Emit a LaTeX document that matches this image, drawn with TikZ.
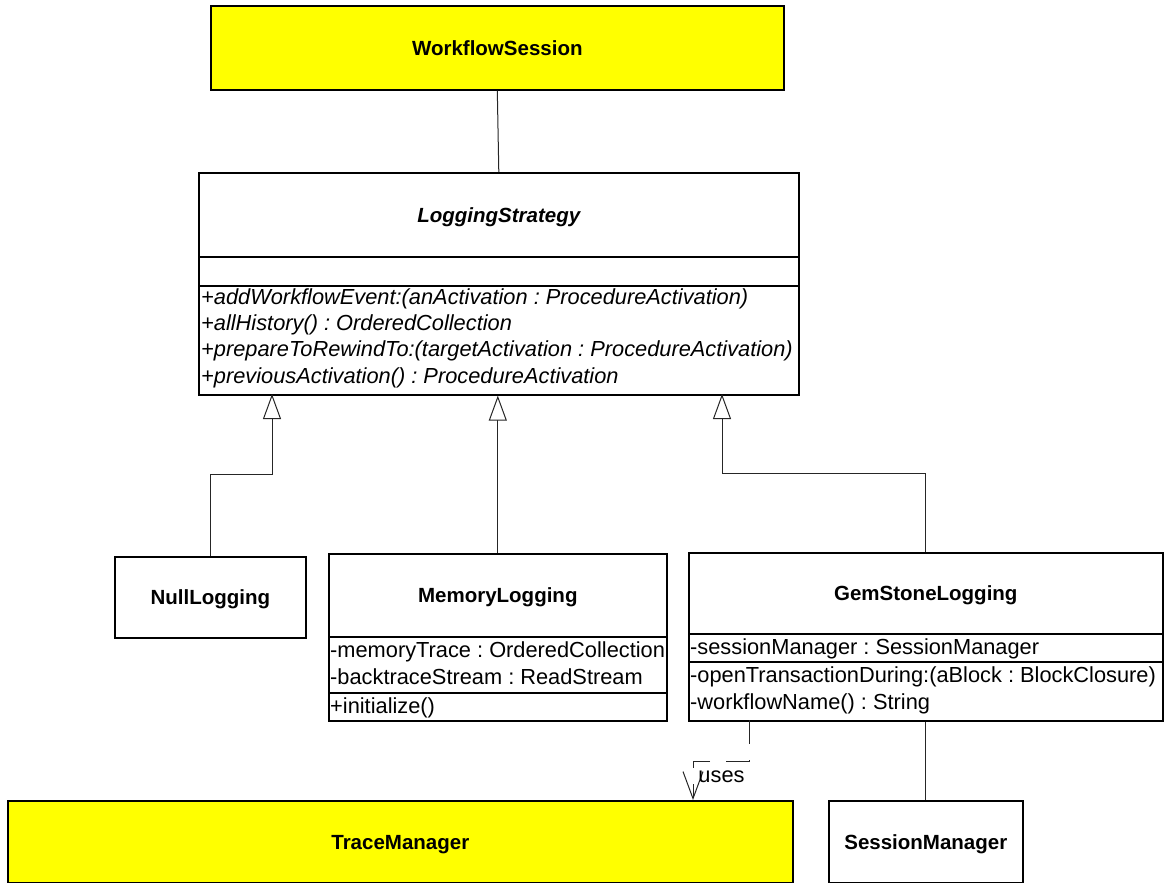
\documentclass[tikz,border=0pt]{standalone}
\usepackage{fontspec}
\setmainfont{Liberation Sans}
\usetikzlibrary{arrows.meta}
\definecolor{classyellow}{RGB}{255,255,0}
\frenchspacing
\begin{document}
\begin{tikzpicture}[x=1pt,y=-1pt,
  cls/.style={draw=black, line width=1.6pt, fill=white, inner sep=0pt, anchor=north west},
  hot/.style={cls, fill=classyellow},
  cname/.style={font=\fontsize{20.5}{24}\selectfont\bfseries, text height=14.7pt, text depth=0pt},
  member/.style={font=\fontsize{21.8}{26}\selectfont, anchor=base west, inner sep=0pt},
  op/.style={member, font=\fontsize{21.8}{26}\selectfont\itshape},
  link/.style={draw=black!85, line width=1pt},
  gen/.style={link, -{Triangle[open,length=25pt,width=18pt,fill=white]}},
  dep/.style={link, dash pattern=on 24pt off 16pt, -{Straight Barb[length=27pt,width=20pt]}},
]
\useasboundingbox (0,0) rectangle (1165,883);

% WorkflowSession
\node[hot, cname, minimum width=573, minimum height=84] (ws) at (210,5) {WorkflowSession};

% LoggingStrategy (abstract)
\node[cls, cname, font=\fontsize{20.5}{24}\selectfont\bfseries\itshape, minimum width=600, minimum height=84] (ls-name) at (198,172) {LoggingStrategy};
\node[cls, minimum width=600, minimum height=29] (ls-attr) at (198,256) {};
\node[cls, minimum width=600, minimum height=109] (ls-ops) at (198,285) {};
\node[op] (ls-op1) at (201,304) {+addWorkflowEvent:(anActivation : ProcedureActivation)};
\node[op] (ls-op2) at (201,330.3) {+allHistory() : OrderedCollection};
\node[op] (ls-op3) at (201,356.6) {+prepareToRewindTo:(targetActivation : ProcedureActivation)};
\node[op] (ls-op4) at (201,383) {+previousActivation() : ProcedureActivation};

% NullLogging
\node[cls, cname, minimum width=191, minimum height=81] (null) at (114,556) {NullLogging};

% MemoryLogging
\node[cls, cname, minimum width=338, minimum height=83] (mem-name) at (328,553) {MemoryLogging};
\node[cls, minimum width=338, minimum height=56] (mem-attr) at (328,636) {};
\node[cls, minimum width=338, minimum height=28] (mem-ops) at (328,692) {};
\node[member] (mem-a1) at (330,657) {-memoryTrace : OrderedCollection};
\node[member] (mem-a2) at (330,684) {-backtraceStream : ReadStream};
\node[member] (mem-o1) at (330,713) {+initialize()};

% GemStoneLogging
\node[cls, cname, minimum width=474, minimum height=81] (gem-name) at (688,552) {GemStoneLogging};
\node[cls, minimum width=474, minimum height=28] (gem-attr) at (688,633) {};
\node[cls, minimum width=474, minimum height=59] (gem-ops) at (688,661) {};
\node[member] (gem-a1) at (690,654) {-sessionManager : SessionManager};
\node[member] (gem-o1) at (690,682) {-openTransactionDuring:(aBlock : BlockClosure)};
\node[member] (gem-o2) at (690,709) {-workflowName() : String};

% TraceManager and SessionManager
\node[hot, cname, minimum width=785, minimum height=82] (tm) at (7,800) {TraceManager};
\node[cls, cname, minimum width=194, minimum height=82] (sm) at (828,800) {SessionManager};

% attachment points
\coordinate (g1) at (272,394);
\coordinate (g3) at (722,394);
\coordinate (d1) at (749,720);
\coordinate (d2) at (693,800);

% association
\draw[link] (ws.south) -- (ls-name.north);
\draw[link] (gem-ops.south) -- (sm.north);

% generalizations
\draw[gen] (null.north) -- ++(0,-82) -| (g1);
\draw[gen] (mem-name.north) -- (mem-name.north |- ls-ops.south);
\draw[gen] (gem-name.north) -- ++(0,-79) -| (g3);

% dependency
\draw[dep] (d1) -- ++(0,41) -| (d2);
\node[member, anchor=base] (uses) at (721.5,782) {uses};
\end{tikzpicture}
\end{document}
